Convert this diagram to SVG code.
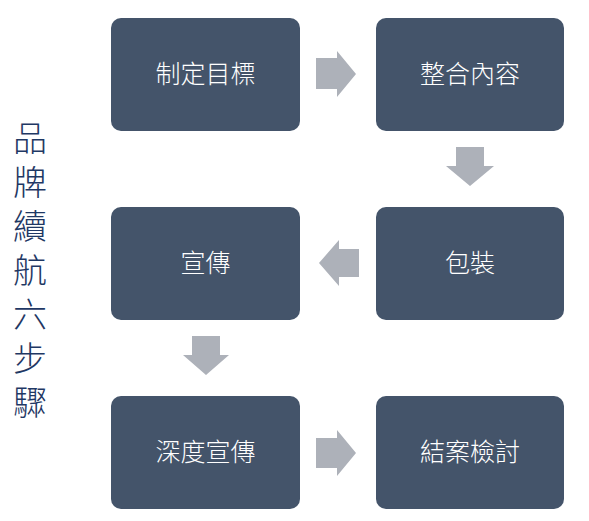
<svg xmlns="http://www.w3.org/2000/svg" width="589" height="521" viewBox="0 0 589 521">
<style>
.box{fill:#44546a;}
.lbl{fill:#ffffff;font-family:"Noto Sans CJK TC","Noto Sans CJK SC",sans-serif;font-size:25px;font-weight:300;text-anchor:middle;}
.arr{fill:#adb1b9;}
.title{fill:#1f3864;font-family:"Noto Sans CJK TC","Noto Sans CJK SC",sans-serif;font-size:34px;font-weight:300;letter-spacing:10px;}
</style>
<rect width="589" height="521" fill="#ffffff"/>
<g id="title">
<text class="title" x="30" y="121" writing-mode="vertical-rl">品牌續航六步驟</text>
</g>
<g id="n1"><rect class="box" x="111" y="18" width="189" height="113" rx="10"/><text class="lbl" x="205.5" y="83">制定目標</text></g>
<g id="n2"><rect class="box" x="376" y="18" width="188" height="113" rx="10"/><text class="lbl" x="470" y="83">整合內容</text></g>
<g id="n3"><rect class="box" x="376" y="207" width="188" height="113" rx="10"/><text class="lbl" x="470" y="272">包裝</text></g>
<g id="n4"><rect class="box" x="111" y="207" width="189" height="113" rx="10"/><text class="lbl" x="205.5" y="272">宣傳</text></g>
<g id="n5"><rect class="box" x="111" y="396" width="189" height="113" rx="10"/><text class="lbl" x="205.5" y="461">深度宣傳</text></g>
<g id="n6"><rect class="box" x="376" y="396" width="188" height="113" rx="10"/><text class="lbl" x="470" y="461">結案檢討</text></g>
<g id="connectors">
<polygon class="arr" points="316,58 337,58 337,51 356,74 337,97 337,89 316,89"/>
<polygon class="arr" points="456,147 484,147 484,166 494,166 470,186 446,166 456,166"/>
<polygon class="arr" points="359,249 339,249 339,240 319,263 339,286 339,277 359,277"/>
<polygon class="arr" points="192,336 220,336 220,355 229,355 206,375 183,355 192,355"/>
<polygon class="arr" points="316,438 337,438 337,430 356,453 337,476 337,468 316,468"/>
</g>
</svg>
